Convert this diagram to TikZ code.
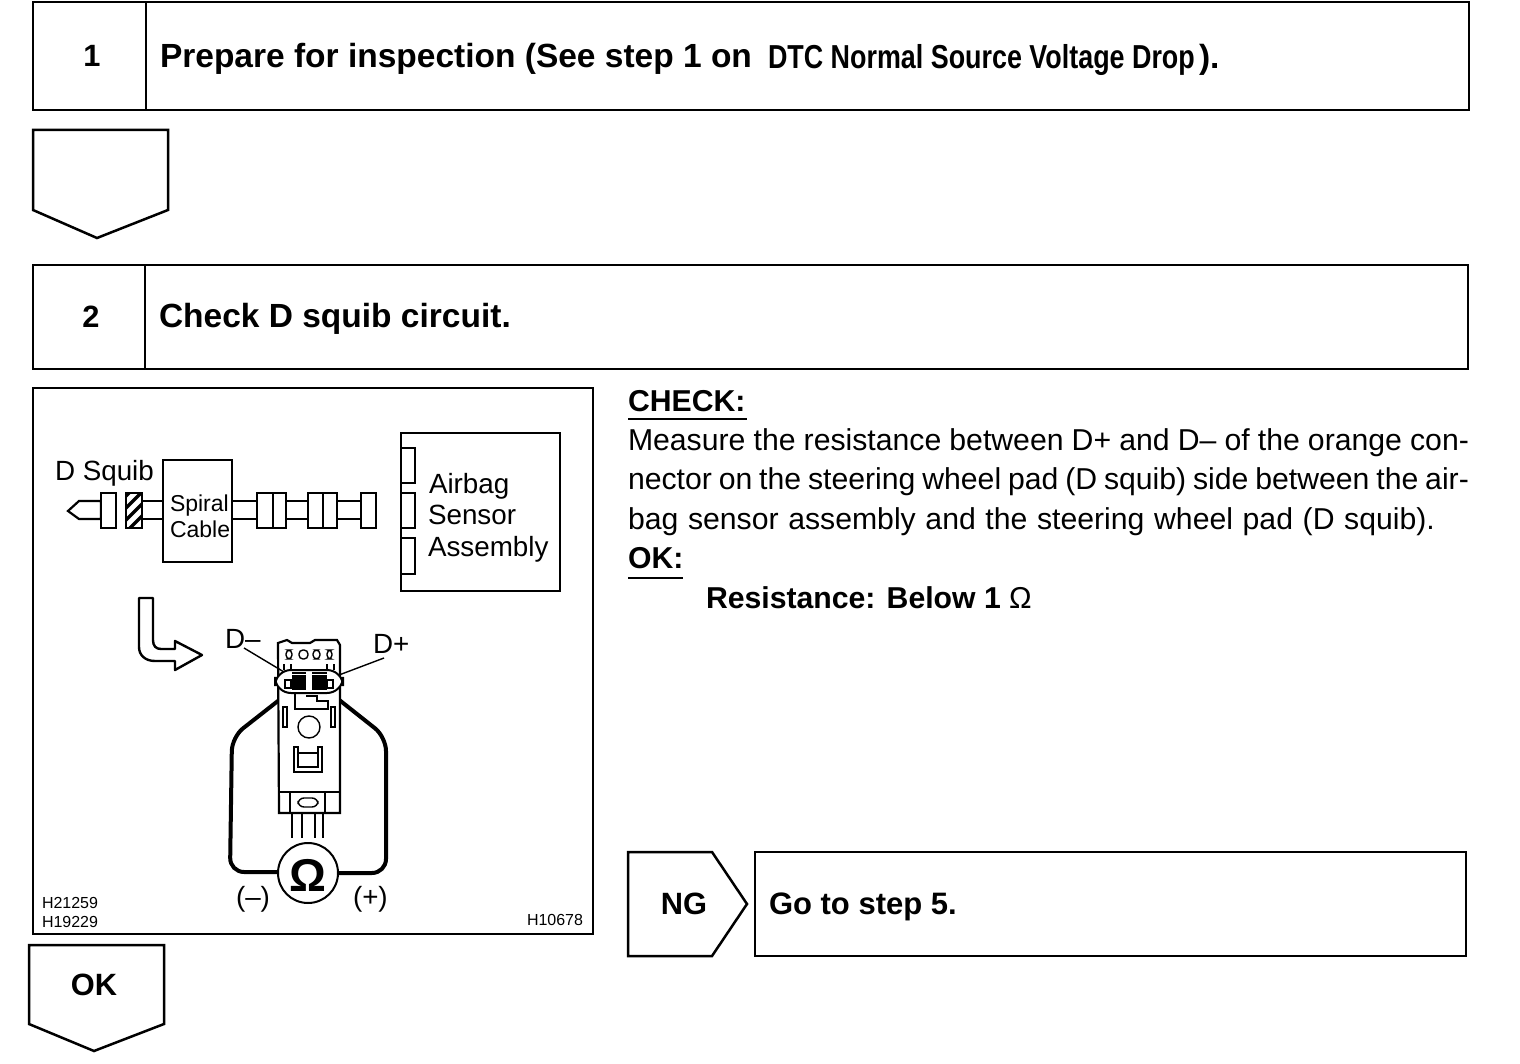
\documentclass[tikz,border=0pt]{standalone}
\usepackage{fontspec}
\setmainfont{Liberation Sans}
\newfontfamily\condfont[FakeStretch=0.81]{Liberation Sans}
\newcommand{\jline}[2]{\hbox to #1{\spaceskip=0.12em plus 1em\relax #2}}
\tikzset{
 x=0.5pt,y=-0.5pt,
 box/.style={draw=black,line width=1.25pt,fill=white},
 thin box/.style={draw=black,line width=0.9pt,fill=white},
 part/.style={draw=black,line width=1.1pt,fill=white},
 wire/.style={draw=black,line width=1pt},
 fine/.style={draw=black,line width=0.7pt},
 cable/.style={draw=black,line width=2pt,rounded corners=7pt},
 txt/.style={anchor=base west,inner sep=0pt,outer sep=0pt},
 head/.style={txt,font=\fontsize{16.75}{20}\selectfont\bfseries},
 body/.style={txt,font=\fontsize{15.1}{18}\selectfont},
 lab/.style={txt,font=\fontsize{13.9}{16}\selectfont},
 small/.style={txt,font=\fontsize{8}{9}\selectfont},
 num/.style={anchor=base,inner sep=0pt,font=\fontsize{15.4}{20}\selectfont\bfseries},
}
\begin{document}
\begin{tikzpicture}
\useasboundingbox (0,0) rectangle (1520,1064);
% step 1
\draw[box] (33,2) rectangle (1469,110);
\draw[box] (146,2) -- (146,110);
\node[num] (n1) at (92,67) {1};
\node[head] (t1) at (160,68) {Prepare for inspection (See step 1 on};
\node[txt,font=\fontsize{16.6}{20}\selectfont\condfont\bfseries] (t1b) at (768,69) {DTC Normal Source Voltage Drop};
\node[head] (t1c) at (1199,69) {).};
\draw[box] (33,130) -- (168,130) -- (168,210) -- (97,238) -- (33,210) -- cycle;
% step 2
\draw[box] (33,265) rectangle (1468,369);
\draw[box] (145,265) -- (145,369);
\node[num] (n2) at (91,328) {2};
\node[head] (t2) at (159,328) {Check D squib circuit.};
% figure frame
\draw[box] (33,388) rectangle (593,934);
% schematic
\node[lab] (dsq) at (55,480) {D Squib};
\draw[part] (68,511) -- (79,501) -- (101,501) -- (101,519) -- (79,519) -- cycle;
\draw[part] (101,493) rectangle (116,528);
\draw[part] (126,493) rectangle (142,528);
\begin{scope}
\clip (126,493) rectangle (142,528);
\foreach \yh in {498,510,522,534}{\draw[line width=1.6pt] (124,\yh) -- (146,\yh-22);}
\end{scope}
\draw[wire] (142,501) -- (163,501) (142,519) -- (163,519);
\draw[thin box] (163,460) rectangle (232,562);
\node[txt,font=\fontsize{11.5}{13}\selectfont] (sp) at (170,511) {Spiral};
\node[txt,font=\fontsize{11.5}{13}\selectfont] (ca) at (170,537) {Cable};
\draw[wire] (232,501) -- (257,501) (232,519) -- (257,519);
\draw[part] (257,493) rectangle (273,528);
\draw[part] (273,493) rectangle (286,528);
\draw[wire] (286,501) -- (308,501) (286,519) -- (308,519);
\draw[part] (308,493) rectangle (323,528);
\draw[part] (323,493) rectangle (337,528);
\draw[wire] (337,501) -- (361,501) (337,519) -- (361,519);
\draw[part] (361,493) rectangle (376,528);
\draw[thin box] (401,433) rectangle (560,591);
\draw[part] (401,448) rectangle (415,483);
\draw[part] (401,493) rectangle (415,528);
\draw[part] (401,538) rectangle (415,574);
\node[lab] (a1) at (429,493) {Airbag};
\node[lab] (a2) at (428,524) {Sensor};
\node[lab] (a3) at (428,556) {Assembly};
% bent arrow
\draw[line width=1.2pt,line join=round] (139,598) -- (153,598) -- (153,640) .. controls (153,646) and (156,649) .. (161,649) -- (175,649) -- (175,641) -- (202,655) -- (175,670) -- (175,661) -- (155,661) .. controls (145,661) and (139,655) .. (139,647) -- cycle;
% labels on connector
\node[lab] (dm) at (225,648) {D--};
\node[lab] (dp) at (373,653) {D+};
% cables
\draw[cable] (283,697) -- (232,737) -- (230,872) -- (278,872);
\draw[cable] (333,695) -- (386,737) -- (386,873) -- (338,873);
% connector body
\draw[draw=black,line width=1.1pt,fill=white] (278,643) -- (287,640) -- (292,643) -- (310,643) -- (315,640) -- (337,640) -- (340,645) -- (340,813) -- (279,813) -- cycle;
\draw[fine,rounded corners=2pt] (286,650) rectangle (292,659);
\draw[fine,rounded corners=2pt] (299,650) rectangle (308,659);
\draw[fine,rounded corners=2pt] (313,650) rectangle (320,659);
\draw[fine,rounded corners=2pt] (327,650) rectangle (332,659);
\draw[draw=black,line width=1pt,fill=white,rounded corners=8pt] (275,670) rectangle (343,693);
\draw[fine] (284,664) -- (284,670) (291,664) -- (291,670) (327,664) -- (327,670) (334,664) -- (334,670);
\draw[fine] (292,673) -- (306,673) (312,673) -- (327,673);
\fill[black] (292,675) rectangle (306,690);
\fill[black] (312,675) rectangle (327,690);
\draw[fine,fill=white] (285,680) rectangle (291,688);
\draw[fine,fill=white] (327,680) rectangle (333,688);
\draw[fine] (295,693) -- (295,709) -- (328,709) -- (328,701) -- (317,701) -- (317,696) -- (306,696);
\draw[fine] (283,707) rectangle (287,727);
\draw[fine] (331,707) rectangle (335,727);
\draw[fine] (309,727) circle[radius=11];
\draw[line width=0.8pt] (294,747) -- (294,772) -- (322,772) -- (322,747) -- (318,747) -- (318,767) -- (298,767) -- (298,747) -- cycle;
\draw[fine] (298,753) -- (318,753);
\draw[fine] (279,792) -- (340,792);
\draw[line width=1pt] (290,792) -- (290,813) (325,792) -- (325,813);
\draw[fine,rounded corners=3pt] (298,798) rectangle (318,807);
\draw[fine] (244,648) -- (284,672);
\draw[fine] (384,658) -- (339,675);
% meter wires
\draw[wire] (292,813) -- (292,838);
\draw[wire] (302,813) -- (302,838);
\draw[wire] (315,813) -- (315,838);
\draw[wire] (323,813) -- (323,838);
% meter
\node[circle,draw=black,line width=1pt,fill=white,minimum size=30pt,inner sep=0pt] (meter) at (308,873) {};
\node[anchor=base,inner sep=0pt,font=\fontsize{23}{24}\selectfont\bfseries] (om) at (308,891) {Ω};
\node[lab] (mn) at (236,906) {(--)};
\node[lab] (pl) at (353,906) {(+)};
\node[small] (h1) at (42,908) {H21259};
\node[small] (h2) at (42,927) {H19229};
\node[small] (h3) at (527,925) {H10678};
% OK arrow
\draw[box] (29,945) -- (164,945) -- (164,1024) -- (94,1051) -- (29,1024) -- cycle;
\node[num] (ok) at (94,995) {OK};
% text
\node[txt,font=\fontsize{15.1}{18}\selectfont\bfseries] (ck) at (628,411) {CHECK:};
\draw[line width=0.9pt] (628,419) -- (747,419);
\node[body] (l1) at (628,450) {\jline{420.5pt}{Measure the resistance between D+ and D-- of the orange con-}};
\node[body] (l2) at (628,489) {\jline{420.5pt}{nector on the steering wheel pad (D squib) side between the air-}};
\node[body] (l3) at (628,529) {\jline{403.5pt}{bag sensor assembly and the steering wheel pad (D squib).}};
\node[txt,font=\fontsize{15.1}{18}\selectfont\bfseries] (okl) at (628,568) {OK:};
\draw[line width=0.9pt] (628,578) -- (683,578);
\node[txt,font=\fontsize{15.1}{18}\selectfont\bfseries] (res) at (706,608) {Resistance: Below 1 {\mdseries Ω}};
% NG
\draw[box] (628,852) -- (712,852) -- (747,904) -- (712,956) -- (628,956) -- cycle;
\node[num] (ng) at (684,914) {NG};
\draw[box] (755,852) rectangle (1466,956);
\node[head,font=\fontsize{15.5}{20}\selectfont\bfseries] (go) at (769,914) {Go to step 5.};
\end{tikzpicture}
\end{document}
